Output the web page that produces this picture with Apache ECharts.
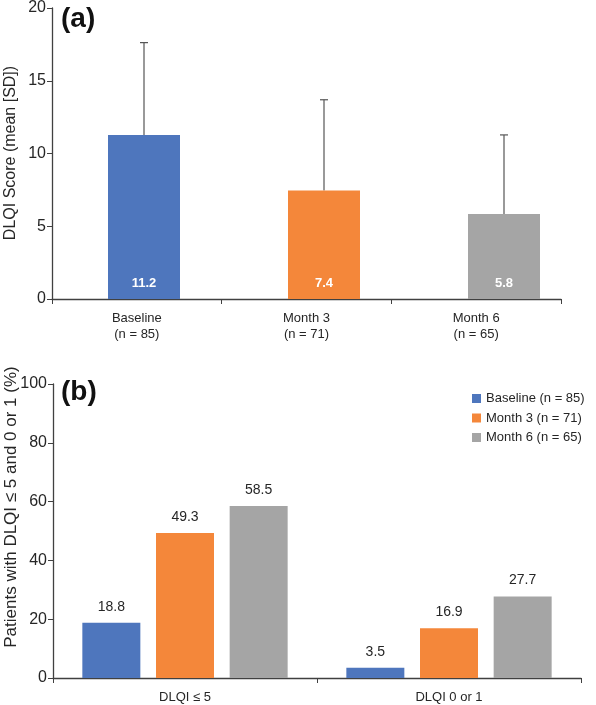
<!DOCTYPE html>
<html>
<head>
<meta charset="utf-8">
<script src="https://cdn.jsdelivr.net/npm/echarts@6/dist/echarts.min.js"></script>
<style>html,body{margin:0;padding:0;background:#fff}#c{width:596px;height:705px}</style>
</head>
<body>
<div id="c"></div>
<script>
// Panel (a)
const visitCategories = ['Baseline\n(n = 85)', 'Month 3\n(n = 71)', 'Month 6\n(n = 65)'];
const meanScores = [11.2, 7.4, 5.8];
const sdScores = [6.3, 6.2, 5.4];
const colorsA = ['#4E76BD', '#F4873A', '#A5A5A5'];
const yTicksA = { min: 0, max: 20, interval: 5 };

// Panel (b)
const thresholdCategories = ['DLQI \u2264 5', 'DLQI 0 or 1'];
const seriesNames = ['Baseline (n = 85)', 'Month 3 (n = 71)', 'Month 6 (n = 65)'];
const baselinePct = [18.8, 3.5];
const month3Pct = [49.3, 16.9];
const month6Pct = [58.5, 27.7];
const yTicksB = { min: 0, max: 100, interval: 20 };

const FONT = 'Liberation Sans, Arial, sans-serif';
const AXIS = '#404040';
const TXT = '#262626';

const chart = echarts.init(document.getElementById('c'), null, { renderer: 'canvas' });

const option = {
  animation: false,
  textStyle: { fontFamily: FONT },
  grid: [
    { left: 52, right: 35, top: 6, height: 293 },
    { left: 54, right: 2, top: 6, height: 293 },
    { left: 53, right: 15, top: 384, height: 294 }
  ],
  legend: {
    data: seriesNames,
    orient: 'vertical',
    left: 467, top: 387,
    itemWidth: 9, itemHeight: 9, itemGap: 6.5,
    textStyle: { fontSize: 13, color: TXT, fontFamily: FONT },
    icon: 'rect'
  },
  xAxis: [
    { gridIndex: 0, type: 'category', data: visitCategories,
      axisLine: { lineStyle: { color: AXIS, width: 1.3 } },
      axisTick: { show: true, length: 5, lineStyle: { color: AXIS } },
      axisLabel: { fontSize: 13, color: TXT, lineHeight: 16, margin: 11, fontFamily: FONT } },
    { gridIndex: 1, type: 'category', data: visitCategories, show: false },
    { gridIndex: 2, type: 'category', data: thresholdCategories,
      axisLine: { lineStyle: { color: AXIS, width: 1.3 } },
      axisTick: { show: true, length: 5, lineStyle: { color: AXIS } },
      axisLabel: { fontSize: 13, color: TXT, margin: 13, fontFamily: FONT } }
  ],
  yAxis: [
    { gridIndex: 0, type: 'value', min: yTicksA.min, max: yTicksA.max, interval: yTicksA.interval,
      axisLine: { show: true, lineStyle: { color: AXIS, width: 1.3 } },
      axisTick: { show: true, length: 5, lineStyle: { color: AXIS } },
      splitLine: { show: false },
      axisLabel: { fontSize: 16, color: TXT, margin: 6, fontFamily: FONT } },
    { gridIndex: 1, type: 'value', min: yTicksA.min, max: yTicksA.max, interval: yTicksA.interval, show: false, splitLine: { show: false } },
    { gridIndex: 2, type: 'value', min: yTicksB.min, max: yTicksB.max, interval: yTicksB.interval,
      axisLine: { show: true, lineStyle: { color: AXIS, width: 1.3 } },
      axisTick: { show: true, length: 5, lineStyle: { color: AXIS } },
      splitLine: { show: false },
      axisLabel: { fontSize: 16, color: TXT, margin: 6, fontFamily: FONT } }
  ],
  series: [
    { type: 'bar', xAxisIndex: 1, yAxisIndex: 1, barWidth: 72,
      data: meanScores.map((v, i) => ({ value: v, itemStyle: { color: colorsA[i] } })),
      label: { show: true, position: 'insideBottom', distance: 9, color: '#fff', fontWeight: 'bold', fontSize: 13, fontFamily: FONT }
    },
    { type: 'custom', xAxisIndex: 1, yAxisIndex: 1, z: 1,
      data: meanScores.map((v, i) => [i, v, v + sdScores[i]]),
      renderItem: function (params, api) {
        const b = api.coord([api.value(0), api.value(1)]);
        const t = api.coord([api.value(0), api.value(2)]);
        const st = { stroke: '#555', lineWidth: 1.2 };
        return { type: 'group', children: [
          { type: 'line', shape: { x1: b[0], y1: b[1], x2: t[0], y2: t[1] }, style: st },
          { type: 'line', shape: { x1: t[0] - 4, y1: t[1], x2: t[0] + 4, y2: t[1] }, style: st }
        ]};
      }
    },
    { name: seriesNames[0], type: 'bar', xAxisIndex: 2, yAxisIndex: 2, data: baselinePct,
      itemStyle: { color: colorsA[0] }, barWidth: 58, barGap: '27%',
      label: { show: true, position: 'top', distance: 9, color: TXT, fontSize: 14, fontFamily: FONT } },
    { name: seriesNames[1], type: 'bar', xAxisIndex: 2, yAxisIndex: 2, data: month3Pct,
      itemStyle: { color: colorsA[1] }, barWidth: 58, barGap: '27%',
      label: { show: true, position: 'top', distance: 9, color: TXT, fontSize: 14, fontFamily: FONT } },
    { name: seriesNames[2], type: 'bar', xAxisIndex: 2, yAxisIndex: 2, data: month6Pct,
      itemStyle: { color: colorsA[2] }, barWidth: 58, barGap: '27%',
      label: { show: true, position: 'top', distance: 9, color: TXT, fontSize: 14, fontFamily: FONT } }
  ],
  graphic: [
    { type: 'text', left: 61, top: 5, style: { text: '(a)', font: 'bold 28px ' + FONT, fill: '#111' } },
    { type: 'text', left: 61, top: 378, style: { text: '(b)', font: 'bold 28px ' + FONT, fill: '#111' } },
    { type: 'text', x: 11, y: 153, rotation: Math.PI / 2,
      style: { text: 'DLQI Score (mean [SD])', font: '16px ' + FONT, fill: TXT, align: 'center', verticalAlign: 'middle' } },
    { type: 'text', x: 11, y: 507, rotation: Math.PI / 2,
      style: { text: 'Patients with DLQI \u2264 5 and 0 or 1 (%)', font: '17px ' + FONT, fill: TXT, align: 'center', verticalAlign: 'middle' } }
  ]
};
chart.setOption(option);
</script>
</body>
</html>
